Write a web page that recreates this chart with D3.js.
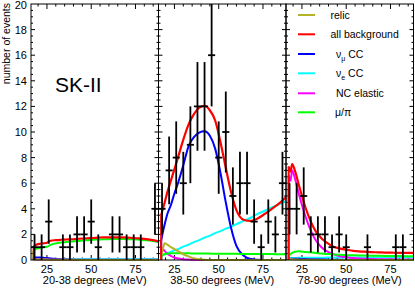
<!DOCTYPE html>
<html>
<head>
<meta charset="utf-8">
<script src="https://cdn.jsdelivr.net/npm/d3@7"></script>
<style>
  body { margin: 0; background: #fff; }
  text { font-family: "Liberation Sans", Arial, sans-serif; fill: #000; }
</style>
</head>
<body>
<svg id="chart"></svg>
<script>
// data points: 4 MeV bins
const binCenters = [18, 22, 26, 30, 34, 38, 42, 46, 50, 54, 58, 62, 66, 70, 74, 78, 82, 86];
const counts20to38 = [1, 1, 3, 0, 1, 1, 2, 2, 3, 1, 0, 2, 2, 1, 1, 1, 0, 4];
const counts38to50 = [4, 7, 8, 6, 9, 12, 12, 16, 8, 10, 5, 6, 6, 3, 1, 3, 2, 6];
const counts78to90 = [4, 4, 5, 2, 2, 2, 1, 2, 1, 0, 0, 1, 0, 0, 0, 1, 1, 0];

// expected spectra, read at these energies
const curveEnergy = [17.5, 18.5, 19.5, 21, 23, 25, 27, 30, 33, 36, 39, 42, 45, 48, 51, 54, 57, 60, 64, 68, 72, 76, 80, 84, 88];

const relic20to38 = [0.03, 0.03, 0.03, 0.03, 0.03, 0.03, 0.02, 0.02, 0.02, 0.01, 0.01, 0.01, 0, 0, 0, 0, 0, 0, 0, 0, 0, 0, 0, 0, 0];
const allBg20to38 = [1.05, 1.15, 1.22, 1.27, 1.3, 1.35, 1.5, 1.55, 1.58, 1.6, 1.62, 1.65, 1.68, 1.7, 1.72, 1.75, 1.77, 1.77, 1.77, 1.76, 1.74, 1.7, 1.65, 1.57, 1.45];
const numuCC20to38 = [0.2, 0.2, 0.2, 0.19, 0.17, 0.15, 0.12, 0.08, 0.05, 0.03, 0.01, 0, 0, 0, 0, 0, 0, 0, 0, 0, 0, 0, 0, 0, 0];
const nueCC20to38 = [0.08, 0.08, 0.08, 0.08, 0.08, 0.08, 0.08, 0.08, 0.08, 0.08, 0.08, 0.08, 0.08, 0.08, 0.08, 0.08, 0.08, 0.08, 0.08, 0.08, 0.08, 0.08, 0.08, 0.08, 0.08];
const ncEl20to38 = [0.05, 0.05, 0.04, 0.04, 0.03, 0.03, 0.02, 0.02, 0.02, 0.02, 0.02, 0.02, 0.02, 0.02, 0.02, 0.02, 0.02, 0.02, 0.02, 0.02, 0.02, 0.02, 0.02, 0.02, 0.02];
const muPi20to38 = [0.75, 0.85, 0.9, 0.95, 1.0, 1.03, 1.18, 1.3, 1.36, 1.4, 1.44, 1.48, 1.52, 1.55, 1.58, 1.6, 1.62, 1.63, 1.64, 1.64, 1.62, 1.6, 1.55, 1.5, 1.4];

const relic38to50 = [0.3, 0.9, 1.3, 1.2, 1.0, 0.85, 0.7, 0.45, 0.28, 0.13, 0.06, 0.02, 0, 0, 0, 0, 0, 0, 0, 0, 0, 0, 0, 0, 0];
const allBg38to50 = [3.5, 4.0, 4.5, 5.3, 6.2, 7.1, 8.0, 9.4, 10.6, 11.4, 11.9, 12.05, 11.7, 10.9, 9.2, 7.2, 5.3, 3.9, 3.15, 3.05, 3.25, 3.6, 4.0, 4.4, 4.9];
const numuCC38to50 = [1.5, 2.2, 2.8, 3.6, 4.3, 5.2, 6.0, 7.4, 8.9, 9.6, 9.95, 10.05, 9.7, 8.7, 6.8, 4.5, 2.5, 1.1, 0.35, 0.08, 0.02, 0, 0, 0, 0];
const nueCC38to50 = [0.3, 0.4, 0.45, 0.55, 0.65, 0.75, 0.85, 1.05, 1.2, 1.4, 1.55, 1.75, 1.9, 2.1, 2.25, 2.45, 2.6, 2.8, 3.05, 3.3, 3.6, 3.85, 4.1, 4.35, 4.6];
const ncEl38to50 = [1.0, 0.85, 0.7, 0.5, 0.33, 0.2, 0.12, 0.06, 0.03, 0.01, 0, 0, 0, 0, 0, 0, 0, 0, 0, 0, 0, 0, 0, 0, 0];
const muPi38to50 = [0.3, 0.4, 0.45, 0.5, 0.52, 0.53, 0.53, 0.52, 0.52, 0.51, 0.5, 0.5, 0.5, 0.49, 0.49, 0.48, 0.48, 0.48, 0.47, 0.47, 0.46, 0.46, 0.46, 0.45, 0.45];

const relic78to90 = [0.05, 0.05, 0.05, 0.04, 0.03, 0.02, 0.02, 0.01, 0.01, 0, 0, 0, 0, 0, 0, 0, 0, 0, 0, 0, 0, 0, 0, 0, 0];
const allBg78to90 = [7.3, 6.9, 7.5, 7.0, 6.0, 5.0, 4.1, 3.0, 2.2, 1.7, 1.35, 1.1, 0.95, 0.85, 0.78, 0.72, 0.68, 0.65, 0.62, 0.6, 0.58, 0.57, 0.56, 0.55, 0.55];
const numuCC78to90 = [0.1, 0.1, 0.1, 0.1, 0.09, 0.08, 0.07, 0.06, 0.05, 0.04, 0.03, 0.02, 0.02, 0.01, 0, 0, 0, 0, 0, 0, 0, 0, 0, 0, 0];
const nueCC78to90 = [0.15, 0.15, 0.16, 0.16, 0.17, 0.17, 0.17, 0.18, 0.18, 0.18, 0.19, 0.19, 0.19, 0.2, 0.2, 0.2, 0.2, 0.2, 0.2, 0.2, 0.2, 0.2, 0.2, 0.2, 0.2];
const ncEl78to90 = [6.6, 6.2, 7.0, 6.4, 5.3, 4.3, 3.4, 2.3, 1.5, 1.0, 0.7, 0.5, 0.35, 0.25, 0.2, 0.15, 0.12, 0.1, 0.08, 0.06, 0.05, 0.05, 0.04, 0.04, 0.04];
const muPi78to90 = [0.35, 0.45, 0.55, 0.65, 0.68, 0.65, 0.62, 0.6, 0.55, 0.5, 0.47, 0.45, 0.42, 0.4, 0.38, 0.37, 0.36, 0.35, 0.34, 0.33, 0.32, 0.32, 0.31, 0.3, 0.3];

const panelLabels = ['20-38 degrees (MeV)', '38-50 degrees (MeV)', '78-90 degrees (MeV)'];
const xTickLabels = [25, 50, 75];
const yTickLabels = [0, 2, 4, 6, 8, 10, 12, 14, 16, 18, 20];

const seriesNames = ['relic', 'all background', 'νμ CC', 'νe CC', 'NC elastic', 'μ/π'];
const seriesColors = ['#b4b428', '#ff0000', '#0000ff', '#00ffff', '#ff00ff', '#00ff00'];

const panels = [
    { label: panelLabels[0], counts: counts20to38,
      curves: [relic20to38, allBg20to38, numuCC20to38, nueCC20to38, ncEl20to38, muPi20to38] },
    { label: panelLabels[1], counts: counts38to50,
      curves: [relic38to50, allBg38to50, numuCC38to50, nueCC38to50, ncEl38to50, muPi38to50] },
    { label: panelLabels[2], counts: counts78to90,
      curves: [relic78to90, allBg78to90, numuCC78to90, nueCC78to90, ncEl78to90, muPi78to90] }
];

const width = 415, height = 290;
const margin = { top: 4, right: 1.5, bottom: 30, left: 31 };
const plotW = width - margin.left - margin.right;
const plotH = height - margin.top - margin.bottom;
const panelW = plotW / 3;

const svg = d3.select('#chart')
    .attr('width', width)
    .attr('height', height);

const y = d3.scaleLinear().domain([0, 20]).range([margin.top + plotH, margin.top]);

// draw order: components below, total on top
const drawOrder = [3, 2, 4, 5, 0, 1];

panels.forEach((p, i) => {
    const x0 = margin.left + i * panelW;
    const x = d3.scaleLinear().domain([16, 88]).range([x0, x0 + panelW]);
    const g = svg.append('g');

    // ticks, inward, on all four sides
    const xMinor = d3.range(20, 88, 5);
    xMinor.forEach(v => {
        const len = v % 25 === 0 ? 5 : 2.5;
        g.append('line').attr('x1', x(v)).attr('x2', x(v))
            .attr('y1', y(0)).attr('y2', y(0) - len)
            .attr('stroke', '#000').attr('stroke-width', 1);
        g.append('line').attr('x1', x(v)).attr('x2', x(v))
            .attr('y1', y(20)).attr('y2', y(20) + len)
            .attr('stroke', '#000').attr('stroke-width', 1);
    });
    const yMinor = d3.range(0.5, 20, 0.5);
    yMinor.forEach(v => {
        const len = v % 2 === 0 ? 4 : 2;
        g.append('line').attr('x1', x0).attr('x2', x0 + len)
            .attr('y1', y(v)).attr('y2', y(v))
            .attr('stroke', '#000').attr('stroke-width', 1);
        g.append('line').attr('x1', x0 + panelW).attr('x2', x0 + panelW - len)
            .attr('y1', y(v)).attr('y2', y(v))
            .attr('stroke', '#000').attr('stroke-width', 1);
    });

    // tick labels
    g.selectAll('.xl').data(xTickLabels).enter().append('text')
        .attr('x', d => x(d)).attr('y', y(0) + 12.5)
        .attr('text-anchor', 'middle')
        .style('font-size', '11px')
        .text(d => d);

    g.append('text')
        .attr('x', x0 + panelW / 2).attr('y', height - 6)
        .attr('text-anchor', 'middle')
        .style('font-size', '11px')
        .text(p.label);

    // curves
    const line = d3.line()
        .x((d, j) => x(curveEnergy[j]))
        .y(d => y(d))
        .curve(d3.curveMonotoneX);

    drawOrder.forEach(k => {
        const vals = p.curves[k];
        g.append('line')
            .attr('x1', x(curveEnergy[0])).attr('x2', x(curveEnergy[0]))
            .attr('y1', y(0)).attr('y2', y(vals[0]))
            .attr('stroke', seriesColors[k]).attr('stroke-width', 2);
        g.append('path')
            .attr('d', line(vals))
            .attr('fill', 'none')
            .attr('stroke', seriesColors[k])
            .attr('stroke-width', k === 1 ? 2.2 : 2);
    });

    // data points with sqrt(n) errors
    const pts = binCenters.map((e, j) => ({ e: e, n: p.counts[j] })).filter(d => d.n > 0);
    const pg = g.selectAll('.pt').data(pts).enter().append('g');
    pg.append('line')
        .attr('x1', d => x(d.e)).attr('x2', d => x(d.e))
        .attr('y1', d => y(Math.max(0, d.n - Math.sqrt(d.n))))
        .attr('y2', d => y(Math.min(20, d.n + Math.sqrt(d.n))))
        .attr('stroke', '#000').attr('stroke-width', 1.8);
    pg.append('line')
        .attr('x1', d => x(d.e - 2)).attr('x2', d => x(d.e + 2))
        .attr('y1', d => y(d.n)).attr('y2', d => y(d.n))
        .attr('stroke', '#000').attr('stroke-width', 1.8);

    // frame
    g.append('rect')
        .attr('x', x0).attr('y', margin.top)
        .attr('width', panelW).attr('height', plotH)
        .attr('fill', 'none').attr('stroke', '#000').attr('stroke-width', 1);
});

// y tick labels (top one nudged so it stays on the page)
svg.selectAll('.yl').data(yTickLabels).enter().append('text')
    .attr('x', margin.left - 4).attr('y', d => Math.max(y(d) + 4, 9))
    .attr('text-anchor', 'end')
    .style('font-size', '11px')
    .text(d => d);

svg.append('text')
    .attr('transform', `translate(10, 3) rotate(-90)`)
    .attr('text-anchor', 'end')
    .style('font-size', '10.5px')
    .text('number of events');

svg.append('text')
    .attr('x', 55).attr('y', 92)
    .style('font-size', '21px')
    .text('SK-II');

// legend
const legend = svg.append('g');
const legY = [15, 34.3, 54, 73.3, 93.3, 112.3];
const legTextX = [330.5, 330.5, 336, 336, 336, 335];
seriesNames.forEach((name, k) => {
    legend.append('line')
        .attr('x1', 298).attr('x2', 315)
        .attr('y1', legY[k]).attr('y2', legY[k])
        .attr('stroke', seriesColors[k]).attr('stroke-width', 2);
    const t = legend.append('text')
        .attr('x', legTextX[k]).attr('y', legY[k] + 4)
        .style('font-size', '10.5px');
    if (k === 2 || k === 3) {
        t.append('tspan').text('ν');
        t.append('tspan').attr('dy', 3).style('font-size', '7px').text(k === 2 ? 'μ' : 'e');
        t.append('tspan').attr('dy', -3).text(' CC');
    } else {
        t.text(name);
    }
});
</script>
</body>
</html>
